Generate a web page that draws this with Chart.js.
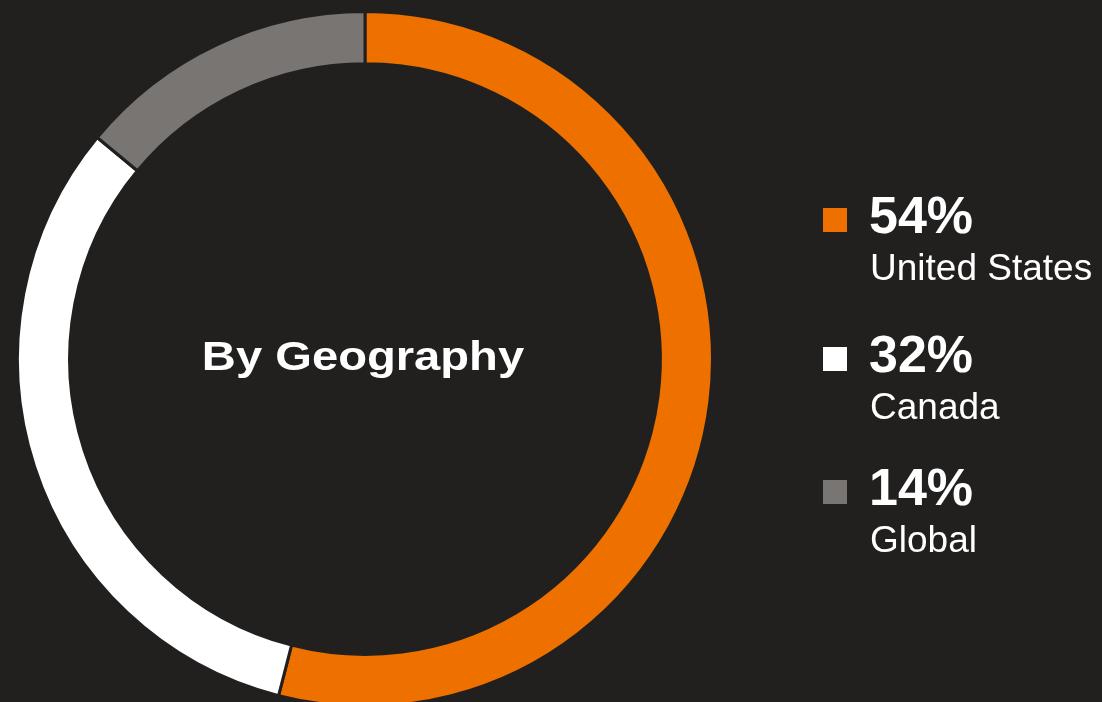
<!DOCTYPE html>
<html>
<head>
<meta charset="utf-8">
<script src="https://cdn.jsdelivr.net/npm/chart.js@4.4.1/dist/chart.umd.min.js"></script>
<style>
  html, body { margin: 0; padding: 0; background: #22201f; overflow: hidden; }
  #wrap { position: absolute; left: 0; top: 0; width: 1102px; height: 718px; }
</style>
</head>
<body>
<div id="wrap"><canvas id="geoChart"></canvas></div>
<script>
  // Revenue split by geography
  var regions = ['United States', 'Canada', 'Global'];
  var shares = [54, 32, 14];
  var centerTitle = 'By Geography';

  var bg = '#22201f';
  var sliceColors = ['#ee7100', '#ffffff', '#787573'];
  var fontFamily = '"Liberation Sans", Arial, sans-serif';

  // Center title and the legend on the right
  var geoText = {
    id: 'geoText',
    afterDraw: function (chart) {
      var ctx = chart.ctx;
      var area = chart.chartArea;
      var cx = (area.left + area.right) / 2;

      ctx.save();
      ctx.fillStyle = '#ffffff';
      ctx.textAlign = 'center';
      ctx.textBaseline = 'alphabetic';
      ctx.font = 'bold 41px ' + fontFamily;
      ctx.translate(cx - 2, 370);
      ctx.scale(1.15, 1);
      ctx.fillText(centerTitle, 0, 0);
      ctx.restore();

      var rowY = [233, 372, 505];
      ctx.save();
      ctx.textAlign = 'left';
      ctx.textBaseline = 'alphabetic';
      for (var i = 0; i < regions.length; i++) {
        var y = rowY[i];
        ctx.fillStyle = sliceColors[i];
        ctx.fillRect(823, y - 25, 24, 24);
        ctx.fillStyle = '#ffffff';
        ctx.font = 'bold 52px ' + fontFamily;
        ctx.fillText(shares[i] + '%', 869, y);
        ctx.font = '37px ' + fontFamily;
        ctx.fillText(regions[i], 870, y + 47);
      }
      ctx.restore();
    }
  };

  var ctx = document.getElementById('geoChart').getContext('2d');
  var geoChart = new Chart(ctx, {
    type: 'doughnut',
    data: {
      labels: regions,
      datasets: [{
        data: shares,
        backgroundColor: sliceColors,
        borderColor: bg,
        borderWidth: 3,
        hoverOffset: 0
      }]
    },
    options: {
      responsive: true,
      maintainAspectRatio: false,
      animation: false,
      events: [],
      cutout: '85%',
      layout: { padding: { left: 16, right: 388, top: 10, bottom: 10 } },
      plugins: {
        legend: { display: false },
        tooltip: { enabled: false }
      }
    },
    plugins: [geoText]
  });
</script>
</body>
</html>
